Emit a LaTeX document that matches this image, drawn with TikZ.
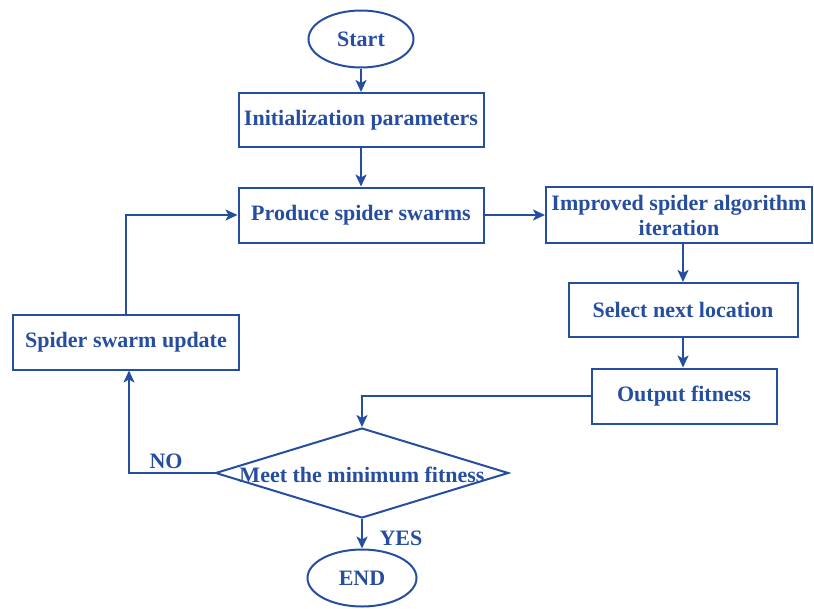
\documentclass[tikz,border=0pt]{standalone}
\usepackage{fontspec}
\setmainfont{Liberation Serif}
\usetikzlibrary{shapes.geometric,arrows.meta}
\definecolor{fc}{RGB}{38,78,160}
\tikzset{
  box/.style={draw=fc, line width=2pt, rectangle, inner sep=0pt, text=fc, font=\bfseries\fontsize{22}{25}\selectfont, align=center},
  term/.style={draw=fc, line width=2pt, ellipse, inner sep=0pt, text=fc, font=\bfseries\fontsize{22}{25}\selectfont},
  lab/.style={text=fc, font=\bfseries\fontsize{22}{25}\selectfont, inner sep=0pt},
  conn/.style={draw=fc, line width=2pt, -{Stealth[length=12pt,width=11pt,inset=3pt]}},
}
\begin{document}
\begin{tikzpicture}[x=1pt,y=-1pt]
\useasboundingbox (0,0) rectangle (814,608);
\node[term, minimum width=105pt, minimum height=57pt] (start) at (361,39) {Start};
\node[box, minimum width=245pt, minimum height=54pt] (init) at (361,120) {Initialization parameters};
\node[box, minimum width=245pt, minimum height=55pt] (prod) at (361,215) {Produce spider swarms};
\node[box, minimum width=266pt, minimum height=56pt] (impr) at (679,215) {Improved spider algorithm\\iteration};
\node[box, minimum width=229pt, minimum height=54pt] (sel) at (683,310) {Select next location};
\node[box, minimum width=185pt, minimum height=55pt] (out) at (684,396) {Output fitness};
\node[box, minimum width=226pt, minimum height=55pt] (upd) at (126,342) {Spider swarm update};
\node[draw=fc, line width=2pt, diamond, inner sep=0pt, minimum width=293pt, minimum height=90pt] (dec) at (362,473) {};
\node[lab] (dectext) at (362,475) {Meet the minimum fitness};
\node[term, minimum width=109pt, minimum height=57pt] (end) at (362,578) {END};
\node[lab] (no) at (166,461) {NO};
\node[lab] (yes) at (401,538) {YES};
\coordinate (c1) at (362,396);
\coordinate (c2) at (129,473);
\coordinate (c3) at (126,215);
\draw[conn] (start) -- (init);
\draw[conn] (init) -- (prod);
\draw[conn] (prod) -- (impr);
\draw[conn] (impr.south -| sel.north) -- (sel);
\draw[conn] (sel) -- (out.north -| sel.south);
\draw[conn] (out.west) -- (c1) -- (dec.north);
\draw[conn] (dec.west) -- (c2) -- (c2 |- upd.south);
\draw[conn] (upd.north) -- (c3) -- (prod.west);
\draw[conn] (dec.south) -- (end.north);
\end{tikzpicture}
\end{document}
